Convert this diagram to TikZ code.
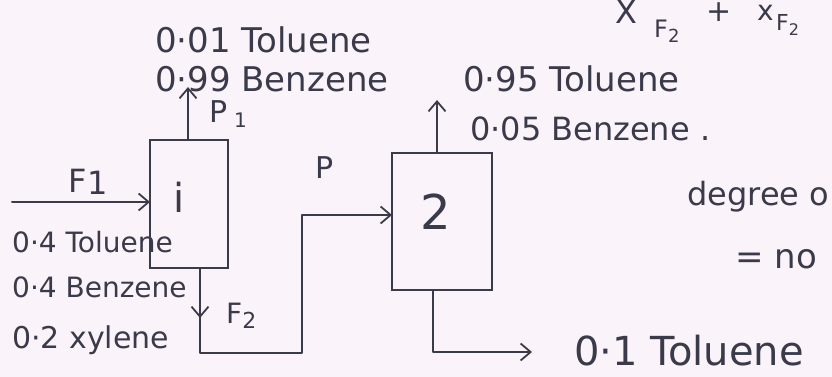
\documentclass[tikz,border=0pt]{standalone}
\usepackage{fontspec}
\setmainfont{DejaVu Sans}
\usetikzlibrary{arrows.meta}
\definecolor{ink}{RGB}{58,58,74}
\definecolor{paper}{RGB}{251,243,250}
\begin{document}
\begin{tikzpicture}[x=1pt,y=-1pt,
  inkline/.style={draw=ink,line width=2pt,line cap=round,line join=round},
  flow/.style={inkline,-{Straight Barb[length=10pt,width=17pt,line width=1.8pt]}},
  unitbox/.style={draw=ink,line width=2pt,rectangle,inner sep=0pt},
  lbl/.style={text=ink,inner sep=0pt,anchor=base west},
  bigtxt/.style={lbl,font=\fontsize{34}{36}\selectfont},
  midtxt/.style={lbl,font=\fontsize{28}{30}\selectfont},
  hugetxt/.style={lbl,font=\fontsize{40}{42}\selectfont}]
\fill[paper] (0,0) rectangle (832,377);
\useasboundingbox (0,0) rectangle (832,377);

% units
\node[unitbox,minimum width=78pt,minimum height=128pt] (box1) at (189,204) {};
\node[unitbox,minimum width=100pt,minimum height=137pt] (box2) at (442,221.5) {};
\node[lbl,font=\fontsize{40}{42}\selectfont] (lab1) at (173,212) {i};
\node[lbl,font=\fontsize{48}{50}\selectfont] (lab2) at (420,229) {2};

% connector points
\coordinate (f1s) at (12,202);
\coordinate (b1in) at (150,202);
\coordinate (b1top) at (188,140);
\coordinate (p1end) at (188,87);
\coordinate (b1bot) at (200,268);
\coordinate (f2mid) at (200,318);
\coordinate (f2c1) at (200,353);
\coordinate (f2c2) at (302,353);
\coordinate (f2c3) at (302,215);
\coordinate (b2in) at (392,215);
\coordinate (b2top) at (437,153);
\coordinate (b2topend) at (437,100);
\coordinate (b2bot) at (433,290);
\coordinate (b2c1) at (433,352);
\coordinate (b2botend) at (532,352);

% connectors
\draw[flow] (f1s) -- (b1in);
\draw[flow] (b1top) -- (p1end);
\draw[flow] (b1bot) -- (f2mid);
\draw[flow] (b1bot) -- (f2c1) -- (f2c2) -- (f2c3) -- (b2in);
\draw[flow] (b2top) -- (b2topend);
\draw[flow] (b2bot) -- (b2c1) -- (b2botend);

% stream labels
\node[bigtxt] (tp1a) at (155,53) {0·01 Toluene};
\node[bigtxt] (tp1b) at (155,92) {0·99 Benzene};
\node[lbl,font=\fontsize{30}{32}\selectfont] (p1) at (209,122) {P};
\node[lbl,font=\fontsize{20}{22}\selectfont] (p1s) at (234,128) {1};
\node[lbl,font=\fontsize{32}{34}\selectfont] (f1) at (68,192) {F\kern1pt\raisebox{-2pt}{1}};
\node[midtxt] (tf1a) at (12,252) {0·4 Toluene};
\node[midtxt] (tf1b) at (12,297) {0·4 Benzene};
\node[midtxt,font=\fontsize{30}{32}\selectfont] (tf1c) at (12,348) {0·2 xylene};
\node[lbl,font=\fontsize{28}{30}\selectfont] (f2) at (226,323) {F\raisebox{-5pt}{\fontsize{22}{24}\selectfont 2}};
\node[lbl,font=\fontsize{30}{32}\selectfont] (p) at (315,178) {P};
\node[bigtxt] (tp2a) at (463,92) {0·95 Toluene};
\node[bigtxt,font=\fontsize{32}{34}\selectfont] (tp2b) at (470,140) {0·05 Benzene .};
\node[hugetxt] (tb) at (574,365) {0·1 Toluene};
\node[bigtxt,font=\fontsize{32}{34}\selectfont] (deg) at (687,205) {degree o};
\node[bigtxt] (eqno) at (735,268) {= no};

% top-right partial expression
\node[lbl,font=\fontsize{32}{34}\selectfont] (xa) at (615,24) {X};
\node[lbl,font=\fontsize{24}{26}\selectfont] (xas) at (654,38) {F\raisebox{-5pt}{\fontsize{18}{20}\selectfont 2}};
\node[lbl,font=\fontsize{30}{32}\selectfont] (plus) at (706,22) {+};
\node[lbl,font=\fontsize{28}{30}\selectfont] (xb) at (757,21) {x};
\node[lbl,font=\fontsize{22}{24}\selectfont] (xbs) at (776,31) {F\raisebox{-5pt}{\fontsize{16}{18}\selectfont 2}};
\end{tikzpicture}
\end{document}
